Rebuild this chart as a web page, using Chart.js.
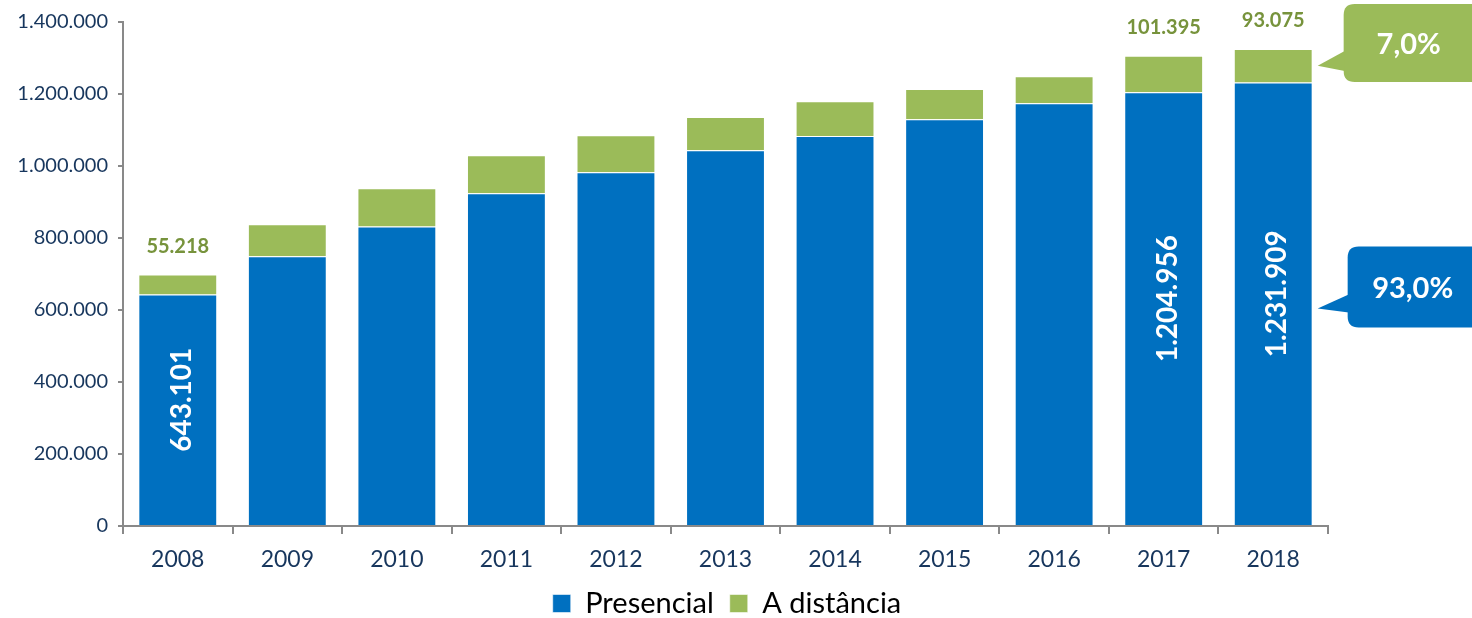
<!DOCTYPE html>
<html>
<head>
<meta charset="utf-8">
<script src="https://cdn.jsdelivr.net/npm/chart.js@4/dist/chart.umd.min.js"></script>
<style>
  html, body { margin: 0; padding: 0; background: #fff; }
  #graph { display: block; }
</style>
</head>
<body>
<canvas id="graph" width="1472" height="618"></canvas>
<script>
// data
const anos = ['2008', '2009', '2010', '2011', '2012', '2013', '2014', '2015', '2016', '2017', '2018']
const presencial = [643101, 749000, 832000, 924000, 982500, 1044000, 1083000, 1130000, 1174500, 1204956, 1231909]
const distancia = [55218, 89000, 106000, 106000, 103000, 92000, 97000, 84000, 75000, 101395, 93075]
// which bars carry a label
const comRotulo = [0, 9, 10]
const pctDistancia = '7,0%'
const pctPresencial = '93,0%'

const AZUL = '#0070c0'
const VERDE = '#9bbb59'
const TXT = '#17365d'
const FONTE = 'Lato, "Open Sans", sans-serif'

function fmt(n) {
    return String(Math.round(n)).replace(/\B(?=(\d{3})+(?!\d))/g, '.')
}

function roundRect(ctx, x, y, w, h, r) {
    ctx.moveTo(x + r, y)
    ctx.lineTo(x + w - r, y)
    ctx.quadraticCurveTo(x + w, y, x + w, y + r)
    ctx.lineTo(x + w, y + h - r)
    ctx.quadraticCurveTo(x + w, y + h, x + w - r, y + h)
    ctx.lineTo(x + r, y + h)
    ctx.quadraticCurveTo(x, y + h, x, y + h - r)
    ctx.lineTo(x, y + r)
    ctx.quadraticCurveTo(x, y, x + r, y)
}

// bubble with a pointer on its left side
function balao(ctx, x, y, w, h, tipX, tipY, p1, p2, cor, texto) {
    ctx.save()
    ctx.fillStyle = cor
    ctx.beginPath()
    roundRect(ctx, x, y, w, h, 11)
    ctx.fill()
    ctx.beginPath()
    ctx.moveTo(x + 1, y + p1)
    ctx.lineTo(tipX, tipY)
    ctx.lineTo(x + 1, y + p2)
    ctx.closePath()
    ctx.fill()
    ctx.fillStyle = '#ffffff'
    ctx.font = 'bold 29px ' + FONTE
    ctx.textAlign = 'center'
    ctx.textBaseline = 'middle'
    ctx.fillText(texto, x + 65, y + h / 2 + 2)
    ctx.restore()
}

const rotulos = {
    id: 'rotulos',
    afterDatasetsDraw(chart) {
        const ctx = chart.ctx
        const barrasP = chart.getDatasetMeta(0).data
        const barrasD = chart.getDatasetMeta(1).data
        ctx.save()
        comRotulo.forEach((i) => {
            const bp = barrasP[i]
            const bd = barrasD[i]
            // vertical white label inside the blue bar
            ctx.save()
            ctx.translate(bp.x + 4, (bp.y + bp.base) / 2 - 10)
            ctx.rotate(-Math.PI / 2)
            ctx.fillStyle = '#ffffff'
            ctx.font = 'bold 28px ' + FONTE
            ctx.textAlign = 'center'
            ctx.textBaseline = 'middle'
            ctx.fillText(fmt(presencial[i]), 0, 0)
            ctx.restore()
            // green label above the bar
            ctx.fillStyle = '#77933c'
            ctx.font = 'bold 20px ' + FONTE
            ctx.textAlign = 'center'
            ctx.textBaseline = 'middle'
            ctx.fillText(fmt(distancia[i]), bd.x, bd.y - 28)
        })
        // callouts next to the last bar
        const ult = barrasD.length - 1
        const bd = barrasD[ult]
        const bp = barrasP[ult]
        const dir = bd.x + bd.width / 2
        balao(ctx, dir + 31, bd.y - 45, 140, 78, dir + 5, (bd.y + bd.base) / 2, 47, 67, VERDE, pctDistancia)
        balao(ctx, dir + 35, bp.y + 164, 140, 81, dir + 5, bp.y + 226, 48, 66, AZUL, pctPresencial)
        ctx.restore()
    }
}

const ctx = document.getElementById('graph').getContext('2d')
const chart = new Chart(ctx, {
    type: 'bar',
    data: {
        labels: anos,
        datasets: [{
            label: 'Presencial',
            backgroundColor: AZUL,
            borderColor: 'rgba(255,255,255,0.55)',
            borderWidth: 1,
            data: presencial,
            barPercentage: 0.72,
            categoryPercentage: 1
        }, {
            label: 'A distância',
            backgroundColor: VERDE,
            borderColor: 'rgba(255,255,255,0.55)',
            borderWidth: 1,
            data: distancia,
            barPercentage: 0.72,
            categoryPercentage: 1
        }]
    },
    options: {
        responsive: false,
        animation: false,
        devicePixelRatio: 1,
        layout: { padding: { top: 22, right: 18, bottom: -10, left: 0 } },
        plugins: {
            tooltip: { enabled: false },
            legend: {
                position: 'bottom',
                labels: {
                    color: '#000000',
                    font: { family: FONTE, size: 29, lineHeight: 1 },
                    boxWidth: 18,
                    boxHeight: 18,
                    padding: 16
                }
            }
        },
        scales: {
            x: {
                stacked: true,
                border: { color: '#898989', width: 2 },
                grid: { display: true, offset: true, drawOnChartArea: false, tickLength: 8, color: '#898989', lineWidth: 2 },
                ticks: { color: TXT, font: { family: FONTE, size: 23 }, padding: 12, maxRotation: 0 },
                afterFit(scale) { scale.height = 47 }
            },
            y: {
                stacked: true,
                min: 0,
                max: 1400000,
                border: { color: '#898989', width: 2 },
                grid: { drawOnChartArea: false, tickLength: 5, color: '#898989', lineWidth: 2 },
                ticks: {
                    stepSize: 200000,
                    color: TXT,
                    font: { family: FONTE, size: 20 },
                    padding: 10,
                    callback: (v) => fmt(v)
                },
                afterFit(scale) { scale.width = 123 }
            },
            // empty right axis that keeps room for the callouts
            espaco: {
                type: 'linear',
                position: 'right',
                grid: { display: false },
                border: { display: false },
                ticks: { display: false },
                afterFit(scale) { scale.width = 126 }
            }
        }
    },
    plugins: [rotulos]
})
</script>
</body>
</html>
